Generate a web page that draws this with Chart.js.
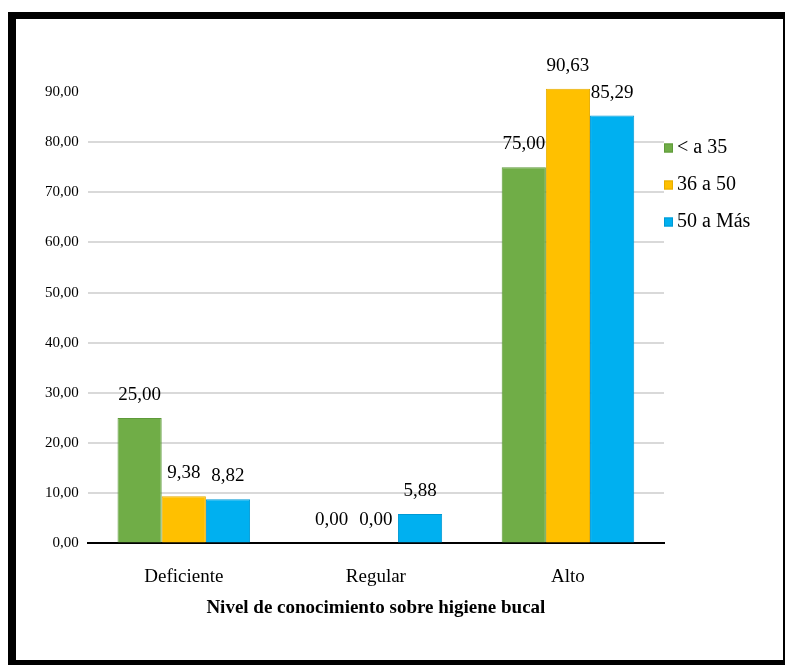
<!DOCTYPE html>
<html lang="es">
<head>
<meta charset="utf-8">
<script src="https://cdn.jsdelivr.net/npm/chart.js@4.4.1/dist/chart.umd.min.js"></script>
<style>
  html, body { margin: 0; padding: 0; background: #fff; overflow: hidden; }
  body { width: 785px; height: 665px; position: relative; }
  #grafico { position: absolute; left: 0; top: 0; }
  /* marco negro grueso alrededor de la imagen */
  #marco {
    position: absolute; left: 8px; top: 12px; width: 780px; height: 656px;
    box-sizing: border-box; border-style: solid; border-color: #000;
    border-width: 7px 5px 8px 8px; pointer-events: none;
  }
</style>
</head>
<body>
<canvas id="grafico" width="785" height="665"></canvas>
<div id="marco"></div>
<script>
// Datos
const categorias = ['Deficiente', 'Regular', 'Alto'];
const nombresSeries = ['< a 35', '36 a 50', '50 a Más'];
const serieMenor35 = [25.00, 0.00, 75.00];
const serie36a50 = [9.38, 0.00, 90.63];
const serie50aMas = [8.82, 5.88, 85.29];
const ejeYMax = 90;
const ejeYPaso = 10;
const tituloEjeX = 'Nivel de conocimiento sobre higiene bucal';

const colores = ['#70ad47', '#ffc000', '#00b0f0'];
const bordes = ['#5e9a3a', '#e6ad00', '#0099d4'];
const fuente = "'Liberation Serif', 'Times New Roman', serif";

Chart.defaults.font.family = fuente;
Chart.defaults.color = '#000';

// formato con coma decimal
function formato(v) {
    return Number(v).toFixed(2).replace('.', ',');
}

// etiquetas de valor encima de cada barra
const etiquetasValor = {
    id: 'etiquetasValor',
    afterDatasetsDraw(chart) {
        const ctx = chart.ctx;
        ctx.save();
        ctx.font = '19px ' + fuente;
        ctx.fillStyle = '#000';
        ctx.textAlign = 'center';
        ctx.textBaseline = 'alphabetic';
        chart.data.datasets.forEach((ds, i) => {
            chart.getDatasetMeta(i).data.forEach((barra, j) => {
                ctx.fillText(formato(ds.data[j]), barra.x, barra.y - 18);
            });
        });
        ctx.restore();
    }
};

// leyenda a la derecha, pegada al área del gráfico (como en Excel)
const leyendaDerecha = {
    id: 'leyendaDerecha',
    afterDraw(chart) {
        const ctx = chart.ctx;
        const x = chart.chartArea.right;
        ctx.save();
        ctx.font = '20px ' + fuente;
        ctx.textBaseline = 'middle';
        ctx.textAlign = 'left';
        chart.data.datasets.forEach((ds, i) => {
            const y = 148 + i * 37;
            ctx.fillStyle = ds.backgroundColor;
            ctx.fillRect(x, y - 4.5, 9, 9);
            ctx.strokeStyle = ds.borderColor;
            ctx.lineWidth = 1;
            ctx.strokeRect(x + 0.5, y - 4, 8, 8);
            ctx.fillStyle = '#000';
            ctx.fillText(ds.label, x + 13, y);
        });
        ctx.restore();
    }
};

const series = [serieMenor35, serie36a50, serie50aMas];

new Chart(document.getElementById('grafico'), {
    type: 'bar',
    data: {
        labels: categorias,
        datasets: series.map((s, i) => ({
            label: nombresSeries[i],
            data: s,
            backgroundColor: colores[i],
            borderColor: bordes[i],
            borderWidth: 1,
            categoryPercentage: 0.69,
            barPercentage: 1,
            clip: false
        }))
    },
    options: {
        responsive: false,
        animation: false,
        layout: { padding: { top: 92, left: 36, right: 121, bottom: 46 } },
        scales: {
            x: {
                grid: { display: false, drawTicks: false },
                border: { color: '#000', width: 2 },
                ticks: { font: { size: 19 }, padding: 22 },
                title: {
                    display: true,
                    text: tituloEjeX,
                    font: { size: 19, weight: 'bold' },
                    padding: { top: -14, bottom: 0 }
                }
            },
            y: {
                min: 0,
                max: ejeYMax,
                border: { display: false },
                grid: {
                    drawTicks: false,
                    lineWidth: 2,
                    color: c => (c.tick.value === ejeYMax ? 'rgba(0,0,0,0)' : '#d9d9d9')
                },
                ticks: {
                    stepSize: ejeYPaso,
                    padding: 9,
                    font: { size: 15 },
                    callback: v => formato(v)
                }
            }
        },
        plugins: {
            legend: { display: false },
            tooltip: { enabled: false }
        }
    },
    plugins: [etiquetasValor, leyendaDerecha]
});
</script>
</body>
</html>
